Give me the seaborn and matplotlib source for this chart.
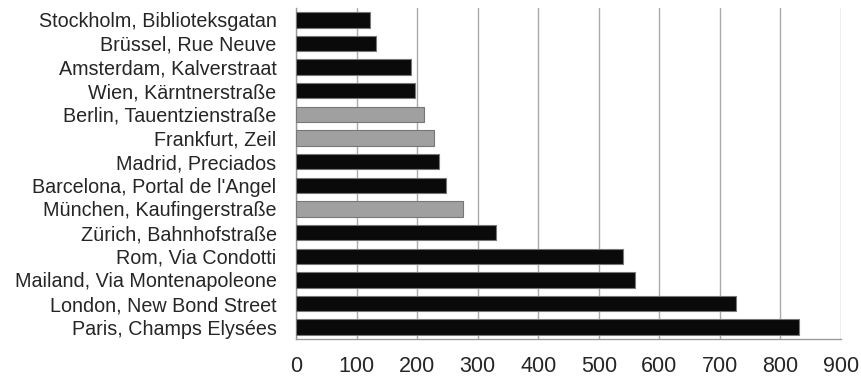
import matplotlib
matplotlib.use("Agg")
import matplotlib.pyplot as plt
import seaborn as sns
import pandas as pd
import numpy as np

streets = [
    "Stockholm, Biblioteksgatan",
    "Brüssel, Rue Neuve",
    "Amsterdam, Kalverstraat",
    "Wien, Kärntnerstraße",
    "Berlin, Tauentzienstraße",
    "Frankfurt, Zeil",
    "Madrid, Preciados",
    "Barcelona, Portal de l'Angel",
    "München, Kaufingerstraße",
    "Zürich, Bahnhofstraße",
    "Rom, Via Condotti",
    "Mailand, Via Montenapoleone",
    "London, New Bond Street",
    "Paris, Champs Elysées",
]
rents = [123, 132, 190, 197, 212, 228, 236, 248, 276, 331, 540, 560, 727, 830]
region = ["Ausland"] * 4 + ["Deutschland"] * 2 + ["Ausland"] * 2 + ["Deutschland"] + ["Ausland"] * 5
x_ticks = list(range(0, 901, 100))

df = pd.DataFrame({"Lage": streets, "Miete": rents, "Region": region})

sns.set_style("white")
plt.rcParams["font.family"] = ["Liberation Sans", "DejaVu Sans"]

fig = plt.figure(figsize=(8.61, 3.8), dpi=100)
ax = fig.add_axes([296 / 861, 1 - 339 / 380, (841 - 296) / 861, (339 - 8) / 380])

sns.barplot(
    data=df, x="Miete", y="Lage", hue="Region", order=streets,
    palette={"Ausland": "#0a0a0a", "Deutschland": "#a0a0a0"},
    orient="h", width=0.65, edgecolor="#777777", linewidth=0.8,
    legend=False, dodge=False, ax=ax, zorder=3,
)

ax.set_xlim(0, 900)
ax.set_ylim(len(streets) - 0.5, -0.5)
ax.set_xticks(x_ticks)
ax.set_xticklabels([str(t) for t in x_ticks], fontsize=15.5)
ax.set_yticks(range(len(streets)))
ax.set_yticklabels(streets, fontsize=14.2)
ax.set_yticks(np.arange(-0.5, len(streets), 1.0), minor=True)
ax.tick_params(axis="y", which="major", length=0, pad=14)
ax.tick_params(axis="y", which="minor", length=4, width=1, color="#999999", direction="out")
ax.tick_params(axis="x", which="major", length=3.6, width=1, color="#999999", direction="out", pad=9)
ax.set_xlabel("")
ax.set_ylabel("")

ax.grid(axis="x", color="#aaaaaa", linewidth=1, zorder=0)
ax.set_axisbelow(True)
for side in ["top", "right"]:
    ax.spines[side].set_visible(False)
for side in ["left", "bottom"]:
    ax.spines[side].set_color("#999999")
    ax.spines[side].set_linewidth(1)

fig.savefig("out.png", dpi=100)
